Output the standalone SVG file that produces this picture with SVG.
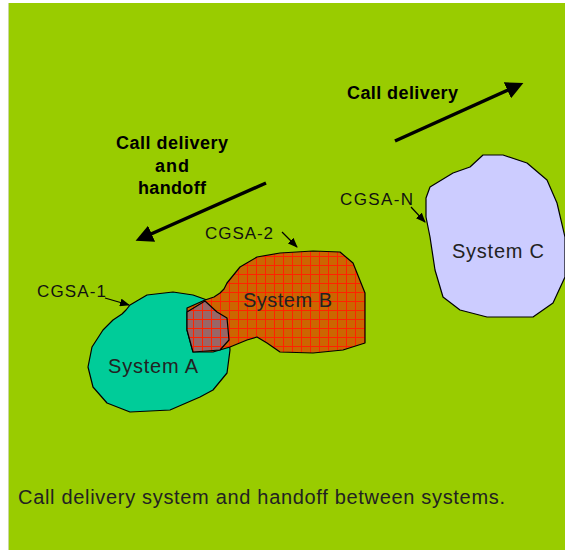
<svg xmlns="http://www.w3.org/2000/svg" width="565" height="550" viewBox="0 0 565 550">
<style>
.lbl{font-family:"Liberation Sans",Arial,sans-serif;font-size:17px;fill:#111}
.sys{font-family:"Liberation Sans",Arial,sans-serif;font-size:20px;fill:#222}
.bold{font-family:"Liberation Sans",Arial,sans-serif;font-size:18px;font-weight:bold;fill:#000}
.shape{stroke:#000;stroke-width:1.2;stroke-linejoin:round}
.big{stroke:#000;stroke-width:3.5;fill:none}
.thin{stroke:#000;stroke-width:1.2;fill:none}
</style>
<defs>
<marker id="ah" markerWidth="5" markerHeight="5" refX="3" refY="2.5" orient="auto" markerUnits="strokeWidth">
<path d="M0,0 L5,2.5 L0,5 z" fill="#000"/>
</marker>
<marker id="as" markerWidth="10" markerHeight="8" refX="9" refY="4" orient="auto" markerUnits="userSpaceOnUse">
<path d="M0,0 L10,4 L0,8 z" fill="#000"/>
</marker>
<pattern id="gridB" width="9" height="9" patternUnits="userSpaceOnUse">
<rect width="9" height="9" fill="#CC6600"/>
<path d="M4.5,0 V9 M0,4.5 H9" stroke="#FF2200" stroke-width="1"/>
</pattern>
<pattern id="gridO" width="9" height="9" patternUnits="userSpaceOnUse">
<rect width="9" height="9" fill="#996666"/>
<path d="M4.5,0 V9 M0,4.5 H9" stroke="#FF2200" stroke-width="1"/>
</pattern>
</defs>
<rect x="8" y="3" width="557" height="547" fill="#99CC00"/>
<line x1="8.5" y1="3" x2="8.5" y2="550" stroke="#C8D8A0" stroke-width="1"/>

<g id="systemA">
<path class="shape" fill="#00CC99" d="M207,300 L217,310 L227,320 L230,350 L227,373 L213,390 L200,397 L170,410 L130,412 L107,403 L93,387 L88,367 L92,347 L103,330 L113,320 L116,318 L122,314 L126,310 L130,305 L147,295 L173,292 L193,295 Z"/>
<text class="sys" x="108" y="373" textLength="90">System A</text>
</g>
<g id="systemB">
<path class="shape" fill="url(#gridB)" d="M187,308 L205,300 L214,297 L220,293 L224,289 L227,283 L240,267 L257,257 L280,253 L313,251 L340,252 L353,263 L365,293 L365,343 L343,350 L313,353 L280,352 L267,343 L257,337 L247,340 L230,347 L213,352 L193,352 L187,330 Z"/>
<path class="shape" fill="url(#gridO)" d="M187,312 L205,301 L217,312 L227,318 L229,340 L220,350 L193,352 L187,330 Z"/>
<text class="sys" x="243" y="307" textLength="89">System B</text>
</g>
<g id="systemC">
<path class="shape" fill="#CCCCFF" d="M426,198 L430,187 L453,173 L470,167 L483,155 L503,155 L527,163 L547,180 L557,203 L565,237 L565,277 L553,303 L533,317 L487,317 L460,310 L443,297 L435,270 L430,237 L426,217 Z"/>
<text class="sys" x="452" y="258" textLength="92">System C</text>
</g>

<g id="labels">
<text class="lbl" x="37" y="297" textLength="69">CGSA-1</text>
<text class="lbl" x="205" y="239" textLength="68">CGSA-2</text>
<text class="lbl" x="340" y="205" textLength="73">CGSA-N</text>
<text class="bold" x="347" y="99" textLength="111">Call delivery</text>
<text class="bold" x="116" y="149" textLength="112">Call delivery</text>
<text class="bold" x="155" y="172" textLength="34">and</text>
<text class="bold" x="138" y="194" textLength="68">handoff</text>
<text class="sys" x="18" y="504" textLength="487">Call delivery system and handoff between systems.</text>
</g>

<g id="connectors">
<line class="big" x1="395" y1="141" x2="517" y2="86" marker-end="url(#ah)"/>
<line class="big" x1="266" y1="183" x2="142" y2="238" marker-end="url(#ah)"/>
<line class="thin" x1="105" y1="298" x2="129" y2="305" marker-end="url(#as)"/>
<line class="thin" x1="282" y1="232" x2="297" y2="247" marker-end="url(#as)"/>
<line class="thin" x1="411" y1="207" x2="425" y2="222" marker-end="url(#as)"/>
</g>
</svg>
